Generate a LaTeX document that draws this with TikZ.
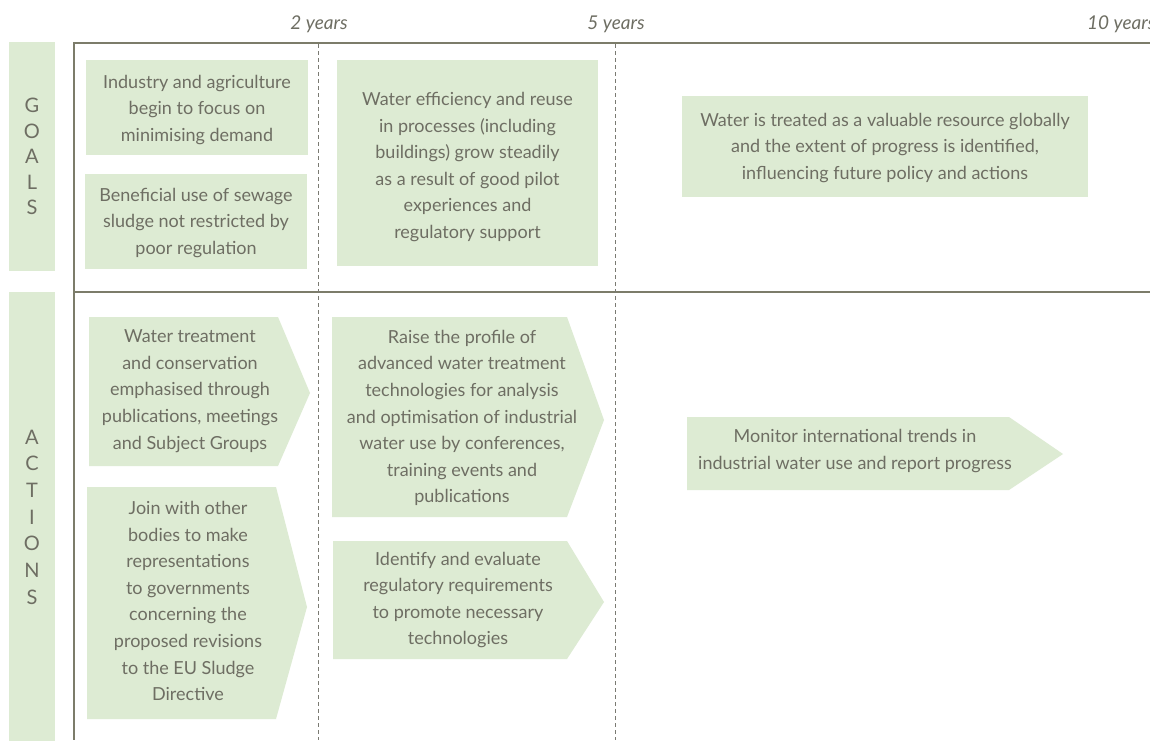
\documentclass[tikz,border=0pt]{standalone}
\usepackage{fontspec}
\setmainfont{Lato}
\definecolor{boxfill}{HTML}{DDEBD3}
\definecolor{txt}{HTML}{6E6E63}
\definecolor{rulec}{HTML}{7C7C6A}
\definecolor{dashc}{HTML}{7A7A72}
\tikzset{
  lbl/.style={align=center, text=txt, font=\fontsize{18}{26.6}\selectfont, inner sep=0pt},
  yearlbl/.style={text=txt, font=\fontsize{19}{22}\selectfont\itshape, inner sep=0pt, anchor=base},
  sidebar/.style={fill=boxfill, inner sep=0pt, align=center, text=txt},
  goalbox/.style={fill=boxfill, inner sep=0pt},
  arrowfill/.style={fill=boxfill},
  frame/.style={draw=rulec, line width=1.3pt},
  divider/.style={draw=dashc, line width=0.9pt, dash pattern=on 4pt off 3pt}
}
\begin{document}
\begin{tikzpicture}[x=1pt,y=-1pt]
\clip (0,0) rectangle (1150,740);
\fill[white] (0,0) rectangle (1150,740);

% year labels
\node[yearlbl] (y2) at (319,29) {2 years};
\node[yearlbl] (y5) at (616,29) {5 years};
\node[yearlbl, anchor=base west] (y10) at (1087,29) {10 years};

% side bars
\node[sidebar, font=\fontsize{20}{25.5}\selectfont, minimum width=46pt, minimum height=229pt] (goals) at (32,156.5) {G\\O\\A\\L\\S};
\node[sidebar, font=\fontsize{20}{26.7}\selectfont, minimum width=46pt, minimum height=450pt] (actions) at (32,517) {A\\C\\T\\I\\O\\N\\S};

% frame
\coordinate (tl) at (74,43);
\coordinate (tr) at (1150,43);
\coordinate (bl) at (74,740);
\coordinate (ml) at (74,292);
\coordinate (mr) at (1150,292);
\draw[frame] (tr) -- (tl) -- (bl);
\draw[frame] (ml) -- (mr);

% dashed dividers
\coordinate (d2t) at (318,44);
\coordinate (d2b) at (318,740);
\coordinate (d5t) at (615,44);
\coordinate (d5b) at (615,740);
\draw[divider] (d2t) -- (d2b);
\draw[divider] (d5t) -- (d5b);

% goals
\node[goalbox, minimum width=222pt, minimum height=95pt] (g1) at (197,107.5) {};
\node[lbl] (g1t) at (197,110) {Industry and agriculture\\begin to focus on\\minimising demand};
\node[goalbox, minimum width=222pt, minimum height=95pt] (g2) at (196,221) {};
\node[lbl] (g2t) at (196,223) {Beneficial use of sewage\\sludge not restricted by\\poor regulation};
\node[goalbox, minimum width=261pt, minimum height=206pt] (g3) at (467.5,163) {};
\node[lbl] (g3t) at (467.5,167) {Water efficiency and reuse\\in processes (including\\buildings) grow steadily\\as a result of good pilot\\experiences and\\regulatory support};
\node[goalbox, minimum width=406pt, minimum height=101pt] (g4) at (885,146.5) {};
\node[lbl] (g4t) at (885,148) {Water is treated as a valuable resource globally\\and the extent of progress is identified,\\influencing future policy and actions};

% actions
\fill[arrowfill] (89,317) -- (278,317) -- (310,393) -- (278,466) -- (89,466) -- cycle;
\node[lbl] (a1) at (190,391) {Water treatment\\and conservation\\emphasised through\\publications, meetings\\and Subject Groups};

\fill[arrowfill] (87,487) -- (276,487) -- (307,607) -- (276,719) -- (87,719) -- cycle;
\node[lbl] (a2) at (188,601) {Join with other\\bodies to make\\representations\\to governments\\concerning the\\proposed revisions\\to the EU Sludge\\Directive};

\fill[arrowfill] (332,317) -- (567,317) -- (604,420) -- (567,517) -- (332,517) -- cycle;
\node[lbl] (a3) at (462,418) {Raise the profile of\\advanced water treatment\\technologies for analysis\\and optimisation of industrial\\water use by conferences,\\training events and\\publications};

\fill[arrowfill] (333,541) -- (567,541) -- (604,602) -- (567,659) -- (333,659) -- cycle;
\node[lbl] (a4) at (458,600) {Identify and evaluate\\regulatory requirements\\to promote necessary\\technologies};

\fill[arrowfill] (687,417) -- (1009,417) -- (1063,454) -- (1009,490) -- (687,490) -- cycle;
\node[lbl] (a5) at (855,451) {Monitor international trends in\\industrial water use and report progress};

\end{tikzpicture}
\end{document}
